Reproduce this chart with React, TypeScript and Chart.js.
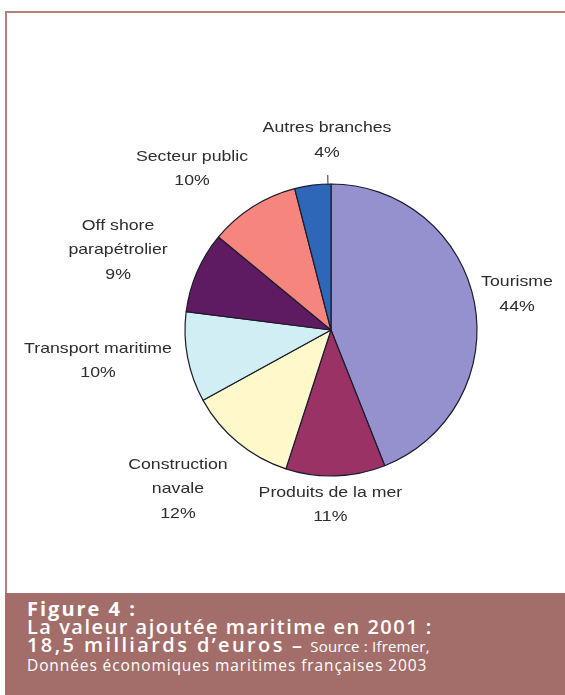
import React, { useEffect, useRef } from 'react';
import { Chart, registerables } from 'chart.js';

Chart.register(...registerables);

// ---- data ----
const categories = [
  'Tourisme',
  'Produits de la mer',
  'Construction\nnavale',
  'Transport maritime',
  'Off shore\nparapétrolier',
  'Secteur public',
  'Autres branches',
];
const shares = [44, 11, 12, 10, 9, 10, 4];

// ---- styles ----
const sliceColors = ['#9591CF', '#9B3266', '#FFF8CB', '#D0EEF3', '#5E1B61', '#F6857E', '#2E67B8'];
const labelNudgeDeg = [0, 2, 4.3, 3.2, -2.8, -8.4, 6];
const labelDistance = [1.297, 1.199, 1.512, 1.61, 1.558, 1.457, 1.3];
const leaderLine = [false, false, false, false, false, false, true];

const labelPlugin = {
  id: 'pieLabels',
  afterDatasetsDraw(chart: any) {
    const ctx = chart.ctx as CanvasRenderingContext2D;
    const meta = chart.getDatasetMeta(0);
    ctx.save();
    ctx.font = '15px "Liberation Sans", Arial, sans-serif';
    ctx.fillStyle = '#2d2d2d';
    ctx.textAlign = 'center';
    ctx.textBaseline = 'middle';
    meta.data.forEach((arc: any, i: number) => {
      const { x, y, startAngle, endAngle, outerRadius } = arc.getProps(
        ['x', 'y', 'startAngle', 'endAngle', 'outerRadius'],
        true
      );
      const a = (startAngle + endAngle) / 2 + (labelNudgeDeg[i] * Math.PI) / 180;
      const d = outerRadius * labelDistance[i];
      const lx = x + Math.cos(a) * d;
      const ly = y + Math.sin(a) * d;
      const lines = [...categories[i].split('\n'), shares[i] + '%'];
      const lh = 24.5;
      lines.forEach((t, k) => {
        const ty = ly + (k - (lines.length - 1) / 2) * lh;
        ctx.save();
        ctx.translate(lx, ty);
        ctx.scale(1.18, 1);
        ctx.fillText(t, 0, 0);
        ctx.restore();
      });
      if (leaderLine[i]) {
        ctx.strokeStyle = '#333';
        ctx.lineWidth = 1;
        ctx.beginPath();
        ctx.moveTo(x + Math.cos(a) * outerRadius, y + Math.sin(a) * outerRadius);
        ctx.lineTo(x + Math.cos(a) * (outerRadius + 9), y + Math.sin(a) * (outerRadius + 9));
        ctx.stroke();
      }
    });
    ctx.restore();
  },
};

export default function App() {
  const ref = useRef<HTMLCanvasElement>(null);

  useEffect(() => {
    if (!ref.current) return;
    const chart = new Chart(ref.current, {
      type: 'pie',
      data: {
        labels: categories.map((c) => c.replace('\n', ' ')),
        datasets: [
          {
            data: shares,
            backgroundColor: sliceColors,
            borderColor: '#1c1c2e',
            borderWidth: 1.2,
          },
        ],
      },
      options: {
        responsive: false,
        animation: false,
        radius: 146,
        layout: { padding: { left: 170, right: 73, top: 170, bottom: 103 } },
        plugins: {
          legend: { display: false },
          tooltip: { enabled: false },
          title: { display: false },
        },
      },
      plugins: [labelPlugin],
    });
    return () => chart.destroy();
  }, []);

  return (
    <div
      style={{
        position: 'absolute',
        left: 0,
        top: 0,
        width: 565,
        height: 695,
        overflow: 'hidden',
        background: '#fff',
      }}
    >
      <canvas
        ref={ref}
        width={565}
        height={593}
        style={{ position: 'absolute', left: 0, top: 0, width: 565, height: 593 }}
      />
      <div
        style={{
          position: 'absolute',
          left: 5,
          top: 11,
          width: 620,
          height: 700,
          border: '2px solid #B3817C',
          boxSizing: 'border-box',
          pointerEvents: 'none',
        }}
      />
      <div
        style={{
          position: 'absolute',
          left: 5,
          top: 593,
          width: 600,
          height: 102,
          background: '#A36E69',
          color: '#fff',
          boxSizing: 'border-box',
          paddingLeft: 22,
          paddingTop: 7,
          fontFamily: '"Open Sans", sans-serif',
          lineHeight: '18px',
          whiteSpace: 'nowrap',
        }}
      >
        <div style={{ fontSize: 20, fontWeight: 700, letterSpacing: 2 }}>Figure 4 :</div>
        <div style={{ fontSize: 20, fontWeight: 600, letterSpacing: 1.5 }}>
          La valeur ajoutée maritime en 2001 :
        </div>
        <div style={{ fontSize: 20, fontWeight: 600, letterSpacing: 2.4 }}>
          18,5 milliards d’euros
          <span style={{ marginLeft: 7, marginRight: 6 }}>–</span>
          <span style={{ fontSize: 15, fontWeight: 400, letterSpacing: 0.2 }}>Source : Ifremer,</span>
        </div>
        <div style={{ fontSize: 15.5, fontWeight: 400, letterSpacing: 0.9, marginTop: 1 }}>
          Données économiques maritimes françaises 2003
        </div>
      </div>
    </div>
  );
}
